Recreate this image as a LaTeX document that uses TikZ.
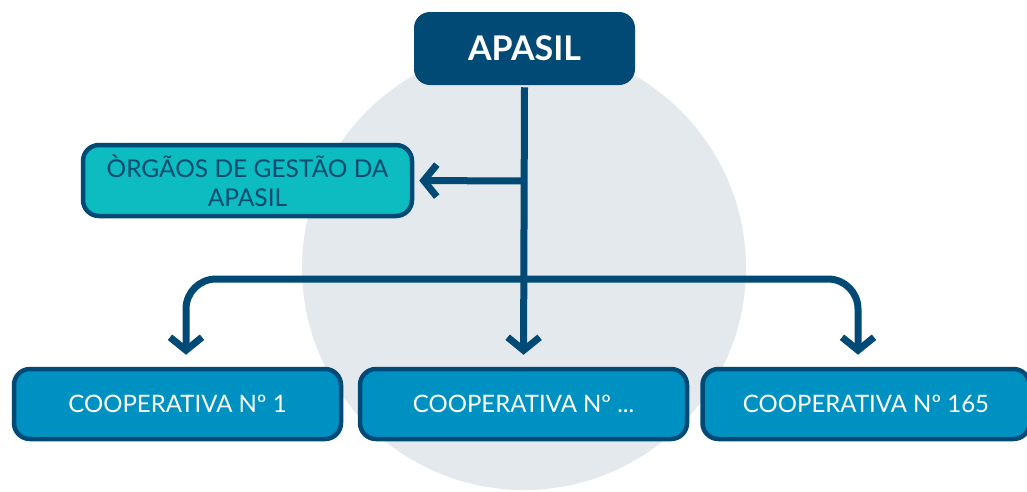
\documentclass[tikz,border=0pt]{standalone}
\usepackage{fontspec}
\setmainfont{Lato}
\usepackage{tikz}
\usetikzlibrary{arrows.meta, positioning}
\definecolor{apablue}{RGB}{0,74,117}
\definecolor{apateal}{RGB}{12,188,192}
\definecolor{apamid}{RGB}{0,145,195}
\definecolor{apagray}{RGB}{228,233,238}
\tikzset{
	box/.style={
		draw=apablue,
		line width=4.5pt,
		rounded corners=16pt,
		align=center,
		inner sep=0pt
	},
	coop/.style={
		box,
		fill=apamid,
		text=white,
		minimum width=327pt,
		minimum height=70pt,
		font=\fontsize{24}{28}\selectfont
	},
	link/.style={
		draw=apablue,
		line width=7pt,
		-{Straight Barb[length=13pt,width=32pt]},
		rounded corners=30pt
	}
}

\begin{document}
\begin{tikzpicture}[x=1pt,y=-1pt]
		\useasboundingbox (0,0) rectangle (1027,491);
		
		% background disc
		\fill[apagray] (524,268) circle (222pt);
		
		\node(apasil) at (524.5,48.5) [box,fill=apablue,draw=none,text=white,minimum width=221pt,minimum height=73pt,font=\fontsize{34}{38}\selectfont\bfseries] {APASIL};
		
		\node(orgaos) at (247.5,180.5) [box,fill=apateal,text=apablue,minimum width=329pt,minimum height=71pt,font=\fontsize{24.5}{29}\selectfont] {ÒRGÃOS DE GESTÃO DA\\APASIL};
		
		\node(coop1) at (177.5,404) [coop] {COOPERATIVA Nº 1};
		\node(coopN) at (523.5,404) [coop] {COOPERATIVA Nº ...};
		\node(coop165) at (866,404) [coop] {COOPERATIVA Nº 165};
		
		\coordinate(split) at (523,279);
		\coordinate(side) at (523,181);
		
		\draw[link,shorten >=12pt] (apasil.south) -- (coopN.north);
		\draw[link,shorten >=5pt] (side) -- (orgaos.east);
		\draw[link,shorten >=12pt] (split) -| ([xshift=8.5pt]coop1.north);
		\draw[link,shorten >=12pt] (split) -| ([xshift=-8pt]coop165.north);
\end{tikzpicture}
\end{document}
